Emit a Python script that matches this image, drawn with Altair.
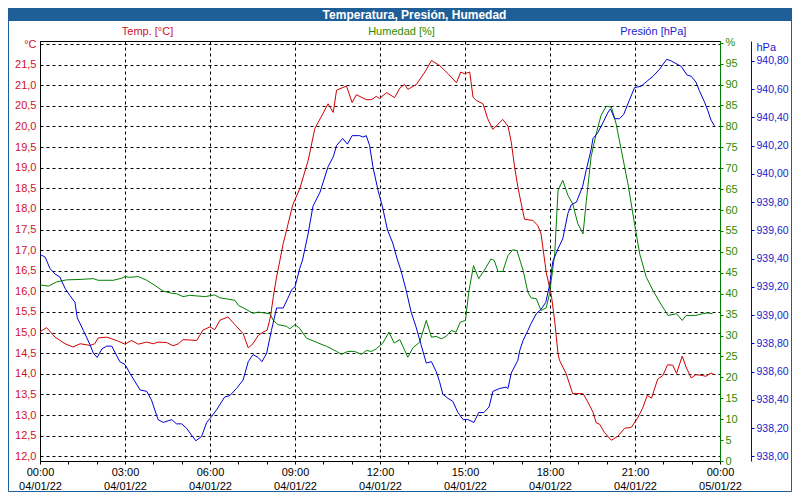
import altair as alt
import pandas as pd

# ---- data (minutes after 00:00 04/01/22, value) ----
temp_points = [
    (0, 15.02), (14, 15.12), (32, 14.89), (53, 14.73), (70, 14.65), (85, 14.73), (106, 14.69),
    (116, 14.73), (123, 14.87), (141, 14.89), (152, 14.85), (166, 14.79), (180, 14.72), (194, 14.81),
    (208, 14.72), (226, 14.77), (240, 14.73), (250, 14.77), (268, 14.76), (282, 14.68), (293, 14.73),
    (303, 14.83), (332, 14.81), (345, 15.06), (360, 15.14), (370, 15.07), (381, 15.30), (398, 15.38),
    (413, 15.19), (430, 14.98), (441, 14.63), (451, 14.73), (462, 14.93), (472, 15.01), (481, 15.06),
    (488, 15.38), (494, 15.86), (501, 16.35), (508, 16.75), (515, 17.16), (522, 17.48), (535, 18.09),
    (550, 18.49), (568, 19.18), (582, 19.95), (599, 20.31), (610, 20.55), (621, 20.34), (628, 20.88),
    (649, 20.98), (661, 20.58), (670, 20.77), (691, 20.65), (702, 20.65), (712, 20.73), (719, 20.68),
    (734, 20.82), (751, 20.70), (762, 20.93), (772, 21.02), (779, 20.90), (797, 21.02), (815, 21.32),
    (829, 21.60), (846, 21.48), (864, 21.28), (882, 21.06), (891, 21.32), (899, 21.28), (910, 21.32),
    (917, 20.71), (924, 20.63), (938, 20.55), (948, 20.19), (959, 19.93), (980, 20.17), (991, 20.01),
    (998, 19.62), (1005, 19.02), (1012, 18.53), (1019, 18.13), (1026, 17.75), (1044, 17.72),
    (1054, 17.60), (1061, 17.40), (1072, 16.46), (1083, 15.90), (1090, 15.27), (1097, 14.49),
    (1100, 14.33), (1114, 14.01), (1128, 13.52), (1150, 13.52), (1160, 13.32), (1171, 13.07),
    (1178, 12.81), (1185, 12.78), (1195, 12.58), (1210, 12.39), (1223, 12.48), (1238, 12.68),
    (1252, 12.70), (1265, 12.92), (1276, 13.16), (1286, 13.48), (1295, 13.41), (1308, 13.87),
    (1319, 13.96), (1329, 14.22), (1340, 14.21), (1348, 14.01), (1360, 14.43), (1368, 14.17),
    (1379, 13.90), (1389, 13.98), (1403, 13.96), (1410, 13.94), (1421, 14.02), (1428, 13.98),
]

hum_points = [
    (0, 42.1), (18, 41.8), (35, 42.8), (56, 43.3), (85, 43.4), (113, 43.6), (123, 43.2), (155, 43.2),
    (173, 43.7), (180, 44.1), (190, 43.9), (208, 44.1), (226, 43.2), (243, 42.0), (261, 40.6),
    (279, 40.1), (289, 40.0), (303, 39.3), (317, 39.6), (349, 39.3), (370, 39.7), (381, 39.0),
    (398, 38.7), (413, 38.4), (420, 37.2), (434, 36.4), (451, 35.3), (462, 35.6), (487, 35.2),
    (494, 33.6), (504, 32.6), (522, 32.2), (529, 31.6), (540, 32.6), (550, 31.7), (564, 29.4),
    (585, 28.4), (607, 27.4), (628, 26.2), (638, 25.5), (652, 26.2), (666, 26.2), (681, 25.5),
    (691, 26.4), (702, 26.2), (712, 26.8), (726, 28.2), (739, 30.8), (750, 28.2), (762, 29.0),
    (779, 24.8), (790, 27.1), (804, 28.4), (818, 33.6), (829, 29.6), (839, 29.8), (850, 29.2),
    (860, 29.8), (871, 31.2), (881, 30.8), (890, 33.2), (901, 33.6), (908, 40.4), (918, 46.7),
    (929, 43.6), (941, 45.6), (955, 48.3), (962, 47.9), (970, 45.3), (980, 45.3), (991, 49.1),
    (1001, 50.5), (1010, 50.3), (1023, 45.6), (1033, 40.4), (1040, 39.0), (1051, 38.8), (1061, 36.0),
    (1072, 36.6), (1079, 40.0), (1090, 49.5), (1097, 64.7), (1107, 67.1), (1118, 63.5), (1128, 61.5),
    (1139, 56.7), (1150, 54.3), (1157, 62.3), (1167, 72.7), (1178, 78.3), (1188, 82.6), (1199, 84.8),
    (1210, 84.6), (1220, 80.6), (1231, 74.3), (1245, 66.3), (1259, 56.7), (1270, 49.5), (1284, 43.9),
    (1298, 40.8), (1312, 38.0), (1330, 34.8), (1348, 35.2), (1360, 33.6), (1368, 34.8), (1389, 34.8),
    (1403, 35.2), (1414, 35.4), (1424, 35.2),
]

pres_points = [
    (0, 939.43), (11, 939.41), (21, 939.33), (32, 939.29), (42, 939.27), (53, 939.19), (63, 939.14),
    (74, 939.09), (79, 938.98), (92, 938.89), (106, 938.79), (113, 938.73), (121, 938.70),
    (131, 938.76), (141, 938.78), (152, 938.78), (169, 938.67), (180, 938.65), (190, 938.59),
    (212, 938.47), (226, 938.46), (236, 938.40), (250, 938.26), (261, 938.24), (279, 938.26),
    (289, 938.23), (300, 938.23), (310, 938.20), (321, 938.15), (330, 938.11), (342, 938.14),
    (353, 938.24), (363, 938.28), (374, 938.33), (391, 938.42), (402, 938.43), (416, 938.48),
    (430, 938.54), (441, 938.67), (451, 938.72), (462, 938.70), (470, 938.67), (480, 938.73),
    (490, 938.89), (501, 939.05), (515, 939.05), (525, 939.12), (533, 939.18), (540, 939.20),
    (550, 939.33), (556, 939.39), (568, 939.58), (578, 939.77), (593, 939.87), (610, 940.05),
    (621, 940.12), (628, 940.20), (641, 940.25), (651, 940.21), (661, 940.27), (677, 940.27),
    (684, 940.26), (691, 940.27), (698, 940.20), (705, 940.05), (716, 939.88), (725, 939.77),
    (736, 939.60), (747, 939.51), (757, 939.39), (764, 939.32), (775, 939.18), (786, 939.02),
    (796, 938.92), (807, 938.79), (818, 938.66), (829, 938.67), (839, 938.60), (846, 938.53),
    (853, 938.44), (864, 938.41), (874, 938.39), (885, 938.31), (896, 938.26), (906, 938.26),
    (919, 938.24), (929, 938.31), (940, 938.31), (951, 938.35), (959, 938.46), (973, 938.48),
    (987, 938.49), (991, 938.48), (998, 938.59), (1012, 938.68), (1016, 938.75), (1023, 938.82),
    (1033, 938.89), (1040, 938.94), (1051, 939.01), (1061, 939.04), (1071, 939.09), (1079, 939.21),
    (1086, 939.38), (1097, 939.47), (1107, 939.54), (1118, 939.72), (1125, 939.78), (1136, 939.80),
    (1142, 939.85), (1149, 939.91), (1157, 940.03), (1167, 940.17), (1171, 940.25), (1181, 940.29),
    (1192, 940.36), (1202, 940.43), (1208, 940.46), (1217, 940.39), (1227, 940.39), (1236, 940.42),
    (1248, 940.52), (1259, 940.61), (1273, 940.62), (1287, 940.66), (1298, 940.69), (1312, 940.74),
    (1327, 940.81), (1336, 940.80), (1347, 940.78), (1358, 940.76), (1370, 940.70), (1379, 940.69),
    (1389, 940.65), (1396, 940.59), (1407, 940.51), (1414, 940.45), (1421, 940.38), (1428, 940.34),
]

temp_ticks = [round(12.0 + 0.5 * i, 1) for i in range(21)]
hum_ticks = [5 * i for i in range(21)]
pres_ticks = [round(938.0 + 0.2 * i, 2) for i in range(15)]

TITLE = "Temperatura, Presión, Humedad"
TEMP_LABEL = "Temp. [°C]"
HUM_LABEL = "Humedad [%]"
PRES_LABEL = "Presión [hPa]"

RED = "#d00000"
RED_TXT = "#d0102a"
GREEN = "#008000"
GREEN_TXT = "#2b8c00"
BLUE = "#0000d8"
BLUE_TXT = "#1c1cc8"
BAR = "#1f5f97"
FONT = "Liberation Sans"

day0 = pd.Timestamp("2022-01-04")


def frame(points):
    return pd.DataFrame({
        "t": [day0 + pd.Timedelta(minutes=m) for m, _ in points],
        "v": [v for _, v in points],
    })


W, H = 680, 420
PAD = {"left": 32, "top": 33, "right": 72, "bottom": 31}

hour_ticks = [alt.DateTime(year=2022, month=1, date=4, hours=h) for h in range(24)] + [
    alt.DateTime(year=2022, month=1, date=5, hours=0)
]
x_enc = alt.X(
    "t:T",
    title=None,
    scale=alt.Scale(domain=[alt.DateTime(year=2022, month=1, date=4, hours=0),
                            alt.DateTime(year=2022, month=1, date=5, hours=0)]),
    axis=alt.Axis(
        values=hour_ticks,
        labelExpr="hours(datum.value) % 3 == 0 ? [timeFormat(datum.value, '%H:%M'), timeFormat(datum.value, '%d/%m/%y')] : ''",
        labelOverlap=False,
        labelFlush=False,
        labelFontSize=11,
        labelColor="black",
        labelLineHeight=14,
        labelPadding=2,
        labelBaseline="top",
        tickSize=3,
        tickColor="black",
        domainColor="black",
        grid=True,
        gridColor="black",
        gridDash=[3, 3],
        gridOpacity={"condition": {"test": "hours(datum.value) % 3 == 0", "value": 1}, "value": 0},
    ),
)

temp_line = alt.Chart(frame(temp_points)).mark_line(color=RED, strokeWidth=1).encode(
    x=x_enc,
    y=alt.Y("v:Q", title=None,
            scale=alt.Scale(domain=[11.886, 22.073], nice=False, zero=False),
            axis=alt.Axis(orient="left", values=temp_ticks,
                          labelExpr="datum.value >= 21.99 ? '°C' : replace(format(datum.value, '.1f'), '.', ',')",
                          grid=True, gridColor="black", gridDash=[3, 3],
                          ticks=False, labelPadding=4, domainColor="black",
                          labelColor=RED_TXT, labelFontSize=11)),
)

hum_line = alt.Chart(frame(hum_points)).mark_line(color=GREEN, strokeWidth=1).encode(
    x=x_enc,
    y=alt.Y("v:Q", title=None,
            scale=alt.Scale(domain=[0, 100.4], nice=False, zero=False),
            axis=alt.Axis(orient="right", values=hum_ticks,
                          labelExpr="datum.value >= 100 ? '%' : format(datum.value, 'd')",
                          grid=False, tickSize=3, tickColor=GREEN, domainColor=GREEN,
                          labelPadding=2, labelColor=GREEN_TXT, labelFontSize=11)),
)

pres_line = alt.Chart(frame(pres_points)).mark_line(color=BLUE, strokeWidth=1).encode(
    x=x_enc,
    y=alt.Y("v:Q",
            scale=alt.Scale(domain=[937.967, 940.94], nice=False, zero=False),
            axis=alt.Axis(orient="right", offset=31, values=pres_ticks,
                          labelExpr="replace(format(datum.value, '.2f'), '.', ',')",
                          grid=False, tickSize=3, tickColor=BLUE, domainColor=BLUE,
                          labelPadding=2, labelColor=BLUE_TXT, labelFontSize=10.5,
                          title="hPa", titleAngle=0, titleX=5, titleY=6,
                          titleAlign="left", titleBaseline="middle",
                          titleColor=BLUE_TXT, titleFontWeight="normal", titleFontSize=11)),
)

one = pd.DataFrame({"k": [0]})

bar = alt.Chart(one).mark_rect(color=BAR).encode(
    x=alt.value(-PAD["left"]), x2=alt.value(W + PAD["right"]),
    y=alt.value(-PAD["top"]), y2=alt.value(-20),
)
border = alt.Chart(one).mark_rect(filled=False, stroke=BAR, strokeWidth=1).encode(
    x=alt.value(-PAD["left"] + 0.5), x2=alt.value(W + PAD["right"] - 0.5),
    y=alt.value(-PAD["top"] + 0.5), y2=alt.value(H + PAD["bottom"] - 0.5),
)
title_txt = alt.Chart(one).mark_text(text=TITLE, color="white", fontSize=12, fontWeight="bold",
                                     align="center", baseline="middle").encode(
    x=alt.value(374.5), y=alt.value(-26.5))
t_lbl = alt.Chart(one).mark_text(text=TEMP_LABEL, color=RED_TXT, fontSize=11,
                                 align="center", baseline="middle").encode(
    x=alt.value(107.5), y=alt.value(-9))
h_lbl = alt.Chart(one).mark_text(text=HUM_LABEL, color=GREEN_TXT, fontSize=11,
                                 align="center", baseline="middle").encode(
    x=alt.value(361.5), y=alt.value(-9))
p_lbl = alt.Chart(one).mark_text(text=PRES_LABEL, color=BLUE_TXT, fontSize=11,
                                 align="center", baseline="middle").encode(
    x=alt.value(613.3), y=alt.value(-9))

chart = alt.layer(
    temp_line, hum_line, pres_line, bar, border, title_txt, t_lbl, h_lbl, p_lbl
).resolve_scale(y="independent").properties(
    width=W, height=H, autosize=alt.AutoSizeParams(type="none"), padding=PAD,
    background="white",
).configure(font=FONT).configure_view(stroke="black", strokeWidth=1)

chart.save("out.html", embed_options={"renderer": "svg", "actions": False})
